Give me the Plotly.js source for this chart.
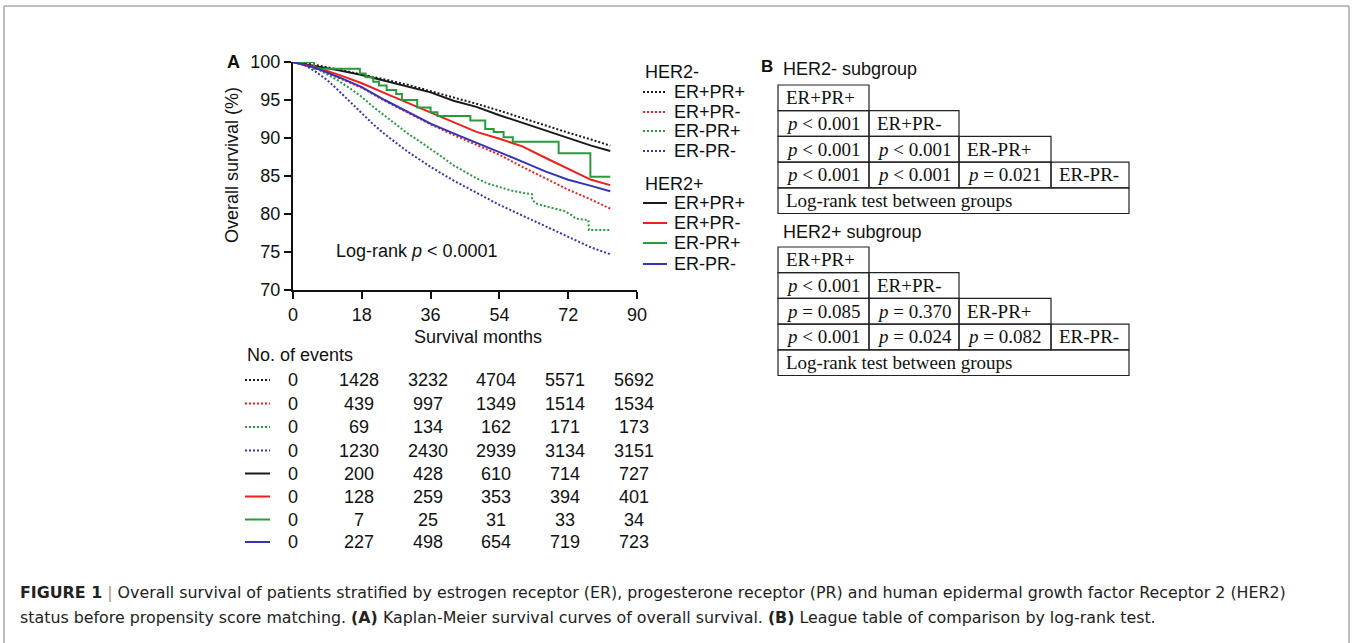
<!DOCTYPE html>
<html><head><meta charset="utf-8">
<script src="https://cdn.plot.ly/plotly-3.0.1.min.js"></script>
<style>html,body{margin:0;padding:0;background:#fff}#chart{width:1352px;height:643px}</style>
</head><body><div id="chart"></div>
<script>
// ---------- DATA ----------
// Kaplan-Meier curves (months, overall survival %)
const monthsGrid = [0,6,12,18,24,30,36,42,48,54,60,66,72,78,83];
const her2neg_ERpPRp = [100,99.6,99.0,98.4,97.7,97.0,96.2,95.3,94.5,93.6,92.6,91.7,90.7,89.8,89.0];
const her2neg_ERpPRm = [100,99.2,97.9,96.6,94.9,93.3,91.8,90.4,89.1,87.8,86.2,84.7,83.2,81.9,80.7];
const her2pos_ERpPRp = [100,99.5,98.9,98.3,97.5,96.8,96.0,94.9,94.1,93.0,92.0,91.1,90.0,89.0,88.3];
const her2pos_ERpPRm = [100,99.3,98.3,97.2,95.9,94.6,93.3,92.0,90.8,89.9,88.9,87.4,86.0,84.5,83.8];
const her2pos_ERmPRm = [100,99.2,98.0,96.7,95.0,93.4,91.9,90.6,89.4,88.2,86.9,85.6,84.5,83.7,83.0];

const monthsNegMM = [0,3,6,9,12,15,18,21,24,27,30,33,36,42,48,54,60,66,72,78,83];
const her2neg_ERmPRm = [100,99.6,98.7,97.6,96.2,94.7,93.2,91.8,90.5,89.3,88.2,87.2,86.2,84.4,82.8,81.2,79.8,78.4,77.0,75.6,74.7];

const monthsNegMP = [0,3,6,9,12,15,18,21,24,27,30,33,36,39,42,45,48,51,54,57,61,62.5,62.6,64,67,71,73,74,77.3,77.4,83];
const her2neg_ERmPRp = [100,99.8,99.2,98.4,97.5,96.5,95.4,94.1,92.9,91.7,90.6,89.6,88.6,87.5,86.4,85.5,84.7,84.0,83.5,83.1,82.7,82.6,81.8,81.3,80.9,80.4,79.8,79.4,79.2,77.9,77.9];

const monthsPosMP = [0,5.5,17.5,19,21,22.5,24.5,27,28.5,32.5,36,37.8,46.4,50.3,52.5,55.1,57.5,69.5,77.8,83];
const her2pos_ERmPRp = [100,99.1,98.5,98.0,97.4,96.9,96.3,95.8,95.0,94.0,93.4,92.9,92.3,91.2,90.8,90.1,89.5,88.0,84.9,84.9];

// Axis ticks
const xTicks = [0,18,36,54,72,90];
const yTicks = [70,75,80,85,90,95,100];

// Number of events table (columns at months 0,18,36,54,72,90)
const eventMonths = [0,18,36,54,72,90];
const ev_neg_ERpPRp = [0,1428,3232,4704,5571,5692];
const ev_neg_ERpPRm = [0,439,997,1349,1514,1534];
const ev_neg_ERmPRp = [0,69,134,162,171,173];
const ev_neg_ERmPRm = [0,1230,2430,2939,3134,3151];
const ev_pos_ERpPRp = [0,200,428,610,714,727];
const ev_pos_ERpPRm = [0,128,259,353,394,401];
const ev_pos_ERmPRp = [0,7,25,31,33,34];
const ev_pos_ERmPRm = [0,227,498,654,719,723];

// Group labels
const groupNames = ['ER+PR+','ER+PR-','ER-PR+','ER-PR-'];

// League tables (log-rank p values), lower-triangular rows
const leagueHer2neg = [
  ['ER+PR+'],
  ['<i>p</i> < 0.001','ER+PR-'],
  ['<i>p</i> < 0.001','<i>p</i> < 0.001','ER-PR+'],
  ['<i>p</i> < 0.001','<i>p</i> < 0.001','<i>p</i> = 0.021','ER-PR-']
];
const leagueHer2pos = [
  ['ER+PR+'],
  ['<i>p</i> < 0.001','ER+PR-'],
  ['<i>p</i> = 0.085','<i>p</i> = 0.370','ER-PR+'],
  ['<i>p</i> < 0.001','<i>p</i> = 0.024','<i>p</i> = 0.082','ER-PR-']
];
const leagueFooter = 'Log-rank test between groups';

// ---------- STYLE / LAYOUT ----------
const C = {black:'#1a1a1a', red:'#f01e1e', green:'#2a9a3e', blue:'#3434b4'};
const DOT = '2px,2px';
const SANS = 'Liberation Sans, Arial, sans-serif';
const SERIF = 'Liberation Serif, Times New Roman, serif';
const CAP = 'DejaVu Sans, Liberation Sans, sans-serif';
const W = 1352, H = 643;
const PL = 293, PR = 637, PT = 62, PB = 290;
const PW = PR - PL, PH = PB - PT;
const fx = p => (p - PL) / PW;
const fy = p => (PB - p) / PH;

function line(x, y, color, dash, shape) {
  return {x, y, type:'scatter', mode:'lines', hoverinfo:'skip', showlegend:false,
    line:{color, width:2, dash: dash || 'solid', shape: shape || 'linear'}};
}
const traces = [
  line(monthsGrid, her2neg_ERpPRp, C.black, DOT),
  line(monthsGrid, her2neg_ERpPRm, C.red, DOT),
  line(monthsNegMP, her2neg_ERmPRp, C.green, DOT),
  line(monthsNegMM, her2neg_ERmPRm, C.blue, DOT),
  line(monthsGrid, her2pos_ERpPRp, C.black),
  line(monthsGrid, her2pos_ERpPRm, C.red),
  line(monthsPosMP, her2pos_ERmPRp, C.green, null, 'hv'),
  line(monthsGrid, her2pos_ERmPRm, C.blue)
];

const ann = [];
const shapes = [];
function txt(px, py, text, opt) {
  opt = opt || {};
  ann.push({xref: opt.xref || 'paper', yref:'paper', x: opt.xref === 'x' ? px : fx(px), y: fy(py),
    text, showarrow:false, xanchor: opt.xa || 'left', yanchor:'middle', xshift: opt.xs || 0,
    textangle: opt.angle || 0,
    font:{family: opt.family || SANS, size: opt.size || 18, color: opt.color || '#111'}});
}
function seg(x0, y0, x1, y1, color, dash, width) {
  shapes.push({type:'line', xref:'paper', yref:'paper', x0:fx(x0), y0:fy(y0), x1:fx(x1), y1:fy(y1),
    line:{color, width: width || 2, dash: dash || 'solid'}});
}
function rect(x0, y0, x1, y1) {
  shapes.push({type:'rect', xref:'paper', yref:'paper', x0:fx(x0), y0:fy(y0), x1:fx(x1), y1:fy(y1),
    line:{color:'#222', width:1.2}, fillcolor:'rgba(0,0,0,0)'});
}

// Frame
seg(4, 6, 4, 643, '#a8a8a8', 'solid', 1.5);
seg(4, 6, 1349, 6, '#a8a8a8', 'solid', 1.5);
seg(1349, 6, 1349, 643, '#a8a8a8', 'solid', 1.5);

// Panel A labels
txt(233, 62, '<b>A</b>', {xa:'center', size:18});
txt(232, 165, 'Overall survival (%)', {xa:'center', angle:-90, size:18});
txt(478, 337, 'Survival months', {xa:'center', size:18});
txt(417, 251, 'Log-rank <i>p</i> < 0.0001', {xa:'center', size:18});

// Legend
const series = [
  {c:C.black, d:DOT},{c:C.red, d:DOT},{c:C.green, d:DOT},{c:C.blue, d:DOT},
  {c:C.black, d:'solid'},{c:C.red, d:'solid'},{c:C.green, d:'solid'},{c:C.blue, d:'solid'}
];
txt(643, 72, 'HER2-');
txt(643, 184, 'HER2+');
const legY = [92, 112, 131, 151, 203, 223, 243, 264];
legY.forEach((y, i) => {
  seg(643, y, 667, y, series[i].c, series[i].d, 2);
  txt(672, y, groupNames[i % 4]);
});

// Number of events table
txt(245, 355, 'No. of events');
const evRows = [ev_neg_ERpPRp, ev_neg_ERpPRm, ev_neg_ERmPRp, ev_neg_ERmPRm,
                ev_pos_ERpPRp, ev_pos_ERpPRm, ev_pos_ERmPRp, ev_pos_ERmPRm];
const evY = [380, 403.5, 427, 450.5, 473.5, 496.5, 519.5, 542];
evRows.forEach((row, r) => {
  seg(245, evY[r], 270, evY[r], series[r].c, series[r].d, 2);
  row.forEach((v, c) => txt(eventMonths[c], evY[r], String(v), {xref:'x', xa:'center', xs: c === 0 ? 0 : -3}));
});

// Panel B league tables
txt(767, 67, '<b>B</b>', {xa:'center', size:17});
const colX = [778, 869, 959, 1051, 1129];
function league(title, titleY, top, rows) {
  txt(781, titleY, title);
  const rh = 25.7;
  rows.forEach((cells, r) => {
    cells.forEach((t, c) => {
      rect(colX[c], top + r*rh, colX[c+1], top + (r+1)*rh);
      txt(colX[c] + 6, top + (r+0.5)*rh, t, {family:SERIF, size:19});
    });
  });
  rect(colX[0], top + 4*rh, colX[4], top + 5*rh);
  txt(colX[0] + 6, top + 4.5*rh, leagueFooter, {family:SERIF, size:19});
}
league('HER2- subgroup', 69, 85, leagueHer2neg);
league('HER2+ subgroup', 232, 247, leagueHer2pos);

// Caption
txt(18, 592, '<b>FIGURE 1</b> <span style="color:#999">|</span> Overall survival of patients stratified by estrogen receptor (ER), progesterone receptor (PR) and human epidermal growth factor Receptor 2 (HER2)', {size:15.85, color:'#222', family:CAP});
txt(18, 617, 'status before propensity score matching. <b>(A)</b> Kaplan-Meier survival curves of overall survival. <b>(B)</b> League table of comparison by log-rank test.', {size:15.85, color:'#222', family:CAP});

const layout = {
  width: W, height: H,
  margin: {l: PL, r: W - PR, t: PT, b: H - PB, pad: 0},
  paper_bgcolor:'#fff', plot_bgcolor:'#fff',
  showlegend:false,
  xaxis: {range:[0,90], tickvals:xTicks, ticktext:xTicks.map(String), showgrid:false, zeroline:false,
    showline:true, linecolor:'#111', linewidth:2, ticks:'outside', ticklen:7, tickwidth:2, tickcolor:'#111',
    tickfont:{family:SANS, size:18, color:'#111'}, fixedrange:true},
  yaxis: {range:[70,100], tickvals:yTicks, ticktext:yTicks.map(String), showgrid:false, zeroline:false,
    showline:true, linecolor:'#111', linewidth:2, ticks:'outside', ticklen:7, tickwidth:2, tickcolor:'#111',
    tickfont:{family:SANS, size:18, color:'#111'}, fixedrange:true},
  annotations: ann,
  shapes: shapes
};
Plotly.newPlot('chart', traces, layout, {staticPlot:true, displayModeBar:false});
</script></body></html>
